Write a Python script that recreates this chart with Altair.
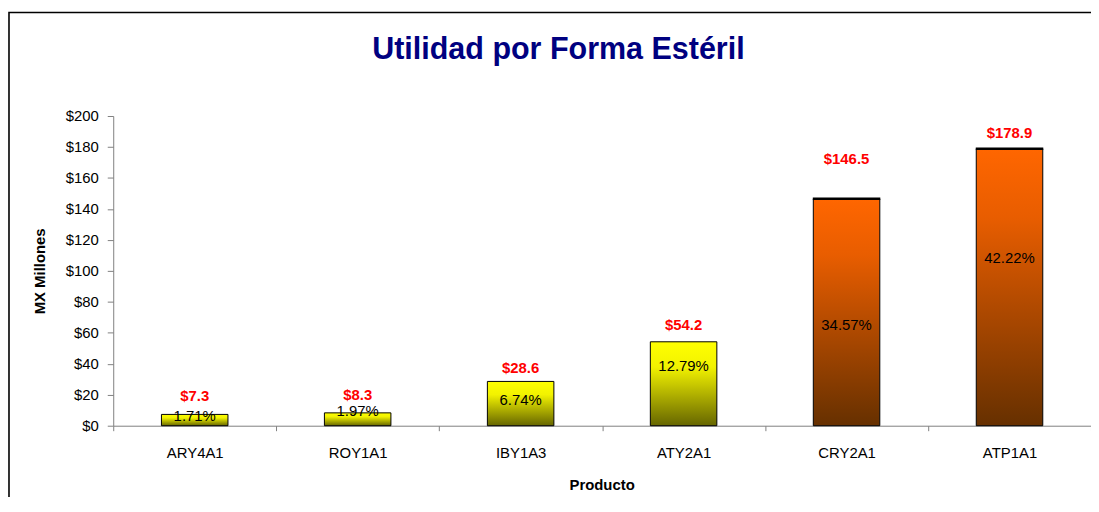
import altair as alt
import pandas as pd

productos = ["ARY4A1", "ROY1A1", "IBY1A3", "ATY2A1", "CRY2A1", "ATP1A1"]
utilidad = [7.3, 8.3, 28.6, 54.2, 146.5, 178.9]
porcentaje = [1.71, 1.97, 6.74, 12.79, 34.57, 42.22]
grupo = ["amarillo", "amarillo", "amarillo", "amarillo", "naranja", "naranja"]
y_ticks = [0, 20, 40, 60, 80, 100, 120, 140, 160, 180, 200]
# vertical anchor (in data units) of each label
pct_label_y = [6.0, 9.8, 16.9, 38.7, 65.0, 108.2]
val_label_y = [19.2, 19.5, 37.4, 64.8, 172.4, 189.2]

df = pd.DataFrame({
    "Producto": productos,
    "Utilidad": utilidad,
    "Porcentaje": porcentaje,
    "Grupo": grupo,
    "pct_y": pct_label_y,
    "val_y": val_label_y,
})

FONT = "Liberation Sans"

x_axis = alt.Axis(
    title="Producto",
    labelAngle=0,
    tickBand="extent",
    tickSize=5,
    labelPadding=15,
    titleX=492,
    titleY=59,
    titleBaseline="middle",
)
y_axis = alt.Axis(
    title="MX Millones",
    values=y_ticks,
    tickCount=11,
    format="$,.0f",
    tickSize=6,
    labelPadding=9,
    labelOverlap=False,
    titleX=-74,
    titleY=156,
    titleBaseline="middle",
    titleAngle=-90,
)
x_scale = alt.Scale(paddingInner=0, paddingOuter=0)
y_scale = alt.Scale(domain=[0, 200], nice=False)


def X():
    return alt.X("Producto:N", sort=productos, scale=x_scale, axis=x_axis)


def Y(field):
    return alt.Y(field, type="quantitative", scale=y_scale, axis=y_axis)


yellow = {
    "gradient": "linear", "x1": 0, "x2": 0, "y1": 0, "y2": 1,
    "stops": [
        {"offset": 0, "color": "#FFFF00"},
        {"offset": 0.3, "color": "#F2F200"},
        {"offset": 1, "color": "#666600"},
    ],
}
orange = {
    "gradient": "linear", "x1": 0, "x2": 0, "y1": 0, "y2": 1,
    "stops": [
        {"offset": 0, "color": "#FF6600"},
        {"offset": 0.25, "color": "#E85D00"},
        {"offset": 1, "color": "#663000"},
    ],
}

base = alt.Chart(df)

bars_y = base.transform_filter(alt.datum.Grupo == "amarillo").mark_bar(
    width=67, fill=yellow, stroke="black", strokeWidth=1
).encode(x=X(), y=Y("Utilidad"))

bars_o = base.transform_filter(alt.datum.Grupo == "naranja").mark_bar(
    width=67, fill=orange, stroke="black", strokeWidth=1
).encode(x=X(), y=Y("Utilidad"))

tops_o = base.transform_filter(alt.datum.Grupo == "naranja").mark_tick(
    thickness=2.5, size=68, color="black", opacity=1
).encode(x=X(), y=Y("Utilidad"))

pct_text = base.transform_calculate(
    lbl="format(datum.Porcentaje, '.2f') + '%'"
).mark_text(
    font=FONT, fontSize=15, color="black", baseline="middle", align="center"
).encode(x=X(), y=Y("pct_y"), text="lbl:N")

val_text = base.transform_calculate(
    lbl="'$' + format(datum.Utilidad, '.1f')"
).mark_text(
    font=FONT, fontSize=15, fontWeight="bold", color="#FF0000",
    baseline="middle", align="center"
).encode(x=X(), y=Y("val_y"), text="lbl:N")

one = alt.Chart(pd.DataFrame({"t": ["Utilidad por Forma Estéril"]}))

title_text = one.mark_text(
    font=FONT, fontSize=30.7, fontWeight="bold", color="#000080",
    baseline="alphabetic", align="center"
).encode(x=alt.value(448.5), y=alt.value(-57), text="t:N")

frame = one.mark_rect(
    fill="transparent", stroke="black", strokeWidth=1.6
).encode(
    x=alt.value(-105), x2=alt.value(2000),
    y=alt.value(-104.2), y2=alt.value(2000),
)

chart = alt.layer(
    frame, bars_y, bars_o, tops_o, pct_text, val_text, title_text
).properties(
    width=985,
    height=312,
    autosize=alt.AutoSizeParams(type="none"),
    padding={"left": 106, "top": 107, "right": 0, "bottom": 70},
    background="white",
).configure_view(
    strokeWidth=0
).configure_axis(
    labelFont=FONT,
    labelFontSize=15,
    labelColor="black",
    titleFont=FONT,
    titleFontSize=15,
    titleFontWeight="bold",
    titleColor="black",
    domainColor="#808080",
    tickColor="#808080",
    domainWidth=1,
    tickWidth=1,
    grid=False,
).configure_axisY(
    labelOverlap=False
)

chart.save("out.html", embed_options={"renderer": "svg", "actions": False})
